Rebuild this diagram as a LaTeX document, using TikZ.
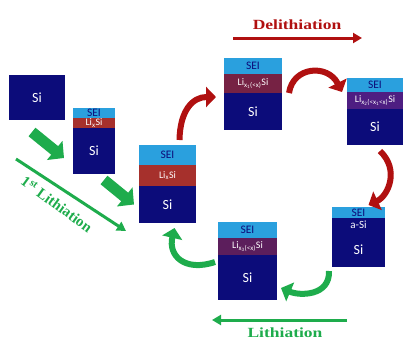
\documentclass[tikz,border=0pt]{standalone}
\usepackage{fontspec}
\usepackage{graphicx}
\setmainfont{Carlito}
\newfontfamily\headfont{Liberation Serif}
\usetikzlibrary{positioning, arrows.meta}
\definecolor{seiblue}{RGB}{42,160,222}
\definecolor{siblue}{RGB}{12,12,122}
\definecolor{lixred}{RGB}{166,48,44}
\definecolor{lixone}{RGB}{118,34,68}
\definecolor{lixtwo}{RGB}{78,30,130}
\definecolor{lixthree}{RGB}{92,30,92}
\definecolor{cyclered}{RGB}{176,16,16}
\definecolor{cyclegreen}{RGB}{30,172,76}
\newcommand{\headword}[1]{\scalebox{1.25}[1]{#1}}

\begin{document}
\begin{tikzpicture}[x=1pt, y=-1pt,
    layer/.style={inner sep=0pt, outer sep=0pt, text=white},
    si/.style={layer, fill=siblue, font=\fontsize{14}{14}\selectfont},
    sei/.style={layer, fill=seiblue, text=siblue, font=\fontsize{11.5}{11.5}\selectfont},
    lix/.style={layer, fill=#1, font=\fontsize{10}{10}\selectfont},
    redturn/.style={cyclered, line width=6pt, -{Triangle[length=10pt, width=20pt]}},
    greenturn/.style={cyclegreen, line width=6pt, -{Triangle[length=10pt, width=20pt]}},
    fatgreen/.style={cyclegreen, line width=11pt, -{Triangle[length=12pt, width=24pt]}},
    headline/.style={line width=3pt, -{Triangle[length=9pt, width=10pt]}},
    headtext/.style={font=\headfont\bfseries\fontsize{14}{14}\selectfont, inner sep=0pt}]
    \useasboundingbox (0,0) rectangle (404,340);

    % pristine Si
    \node[si, minimum width=56, minimum height=45, anchor=north west] (si1) at (9,75) {Si};

    % first lithiation
    \node[sei, minimum width=42, minimum height=10, anchor=north west] (b2sei) at (73,108) {SEI};
    \node[lix=lixred, minimum width=42, minimum height=10, below=0pt of b2sei] (b2li) {Li\textsubscript{x}Si};
    \node[si, minimum width=42, minimum height=46, below=0pt of b2li] (b2si) {Si};

    \node[sei, minimum width=57, minimum height=20, anchor=north west] (b3sei) at (139,145) {SEI};
    \node[lix=lixred, minimum width=57, minimum height=21, below=0pt of b3sei] (b3li) {Li\textsubscript{x}Si};
    \node[si, minimum width=57, minimum height=37, below=0pt of b3li] (b3si) {Si};

    % delithiation
    \node[sei, minimum width=58, minimum height=16, anchor=north west] (b4sei) at (224,58) {SEI};
    \node[lix=lixone, minimum width=58, minimum height=19, below=0pt of b4sei] (b4li) {Li\textsubscript{x\textsubscript{1}(<x)}Si};
    \node[si, minimum width=58, minimum height=37, below=0pt of b4li] (b4si) {Si};

    \node[sei, minimum width=56, minimum height=14, anchor=north west] (b5sei) at (347,78) {SEI};
    \node[lix=lixtwo, minimum width=56, minimum height=17, below=0pt of b5sei] (b5li) {Li\textsubscript{x\textsubscript{2}(<x\textsubscript{1}<x)}Si};
    \node[si, minimum width=56, minimum height=36, below=0pt of b5li] (b5si) {Si};

    \node[sei, minimum width=53, minimum height=11, anchor=north west] (b6sei) at (332,207) {SEI};
    \node[lix=siblue, minimum width=53, minimum height=14, below=0pt of b6sei] (b6a) {\fontsize{11}{11}\selectfont a-Si};
    \node[si, minimum width=53, minimum height=35, below=0pt of b6a] (b6si) {Si};

    % lithiation
    \node[sei, minimum width=59, minimum height=16, anchor=north west] (b7sei) at (218,222) {SEI};
    \node[lix=lixthree, minimum width=59, minimum height=17, below=0pt of b7sei] (b7li) {Li\textsubscript{x\textsubscript{3}(<x)}Si};
    \node[si, minimum width=59, minimum height=45, below=0pt of b7li] (b7si) {Si};

    % first lithiation arrows
    \draw[fatgreen] ([xshift=-5pt, yshift=-12pt]si1.south) -- ([xshift=-9pt, yshift=-7pt]b2si.west);
    \draw[fatgreen] ([xshift=10pt, yshift=-6pt]b2si.south) -- ([xshift=-5pt]b3si.west);
    \coordinate (firsts) at (16,159);
    \coordinate (firste) at (126,231);
    \draw[headline, cyclegreen] (firsts) -- (firste);
    \node[headtext, cyclegreen, rotate=-36, font=\headfont\bfseries\fontsize{15}{15}\selectfont] (firstlabel) at (57,204) {1\textsuperscript{st} Lithiation};

    % cycle arrows
    \draw[redturn] ([xshift=12pt, yshift=5pt]b3sei.north) .. controls (180,110) and (193,97) .. ([xshift=-8pt, yshift=-4pt]b4si.north west);
    \draw[redturn] ([xshift=7pt]b4si.north east) .. controls (293,66) and (328,64) .. ([xshift=-5pt]b5li.north west);
    \draw[redturn] ([xshift=5pt, yshift=-6pt]b5si.south) .. controls (400,170) and (388,196) .. ([xshift=10pt, yshift=2pt]b6sei.north);
    \draw[greenturn] ([xshift=-3pt, yshift=-4pt]b6si.south west) .. controls (330,296) and (300,296) .. ([xshift=4pt, yshift=12pt]b7si.south east);
    \draw[greenturn] ([xshift=-3pt, yshift=-7pt]b7si.north west) .. controls (185,272) and (168,256) .. ([xshift=7pt, yshift=-5pt]b3si.south);

    % headings
    \coordinate (delis) at (233,38);
    \coordinate (delie) at (362,38);
    \draw[headline, cyclered] (delis) -- (delie);
    \node[headtext, cyclered] (delilabel) at (297,25) {\headword{Delithiation}};
    \coordinate (lis) at (347,320);
    \coordinate (lie) at (212,320);
    \draw[headline, cyclegreen] (lis) -- (lie);
    \node[headtext, cyclegreen] (lilabel) at (285,333) {\headword{Lithiation}};
\end{tikzpicture}
\end{document}
